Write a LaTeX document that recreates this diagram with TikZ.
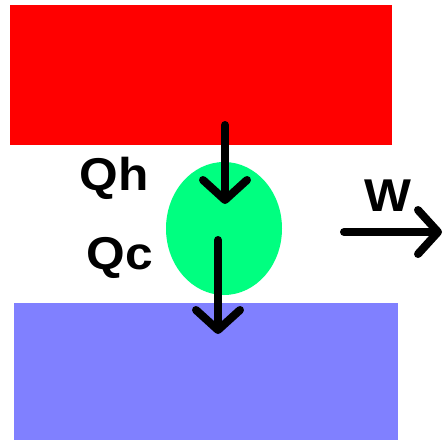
\documentclass[tikz,border=0pt]{standalone}
\usepackage{fontspec}
\setmainfont{Liberation Sans}
\usetikzlibrary{shapes.geometric,arrows.meta}
\definecolor{hot}{RGB}{255,0,0}
\definecolor{cold}{RGB}{128,128,255}
\definecolor{engine}{RGB}{0,255,128}
\tikzset{
  flow/.style={line width=8pt, line cap=round, line join=round,
    -{Straight Barb[length=20pt,width=44pt,line width=8pt,round]}},
  lbl/.style={font=\fontsize{46}{46}\selectfont\bfseries, inner sep=0pt, xscale=1.08}
}
\begin{document}
\begin{tikzpicture}[x=1pt,y=-1pt]
\useasboundingbox (0,0) rectangle (444,440);
\fill[hot] (10,5) rectangle (392,145);
\fill[cold] (14,303) rectangle (398,440);
\node[ellipse, fill=engine, minimum width=116pt, minimum height=133pt, inner sep=0pt] (eng) at (224,228.5) {};
\coordinate (h1) at (225,125);
\coordinate (h2) at (225,204);
\coordinate (c1) at (218,240);
\coordinate (c2) at (218,334);
\coordinate (w1) at (344,232);
\coordinate (w2) at (442,232);
\draw[flow] (h1) -- (h2);
\draw[flow] (c1) -- (c2);
\draw[flow] (w1) -- (w2);
\node[lbl] (qh) at (114,178) {Qh};
\node[lbl] (qc) at (120,258) {Qc};
\node[lbl] (w) at (388,196) {W};
\end{tikzpicture}
\end{document}
